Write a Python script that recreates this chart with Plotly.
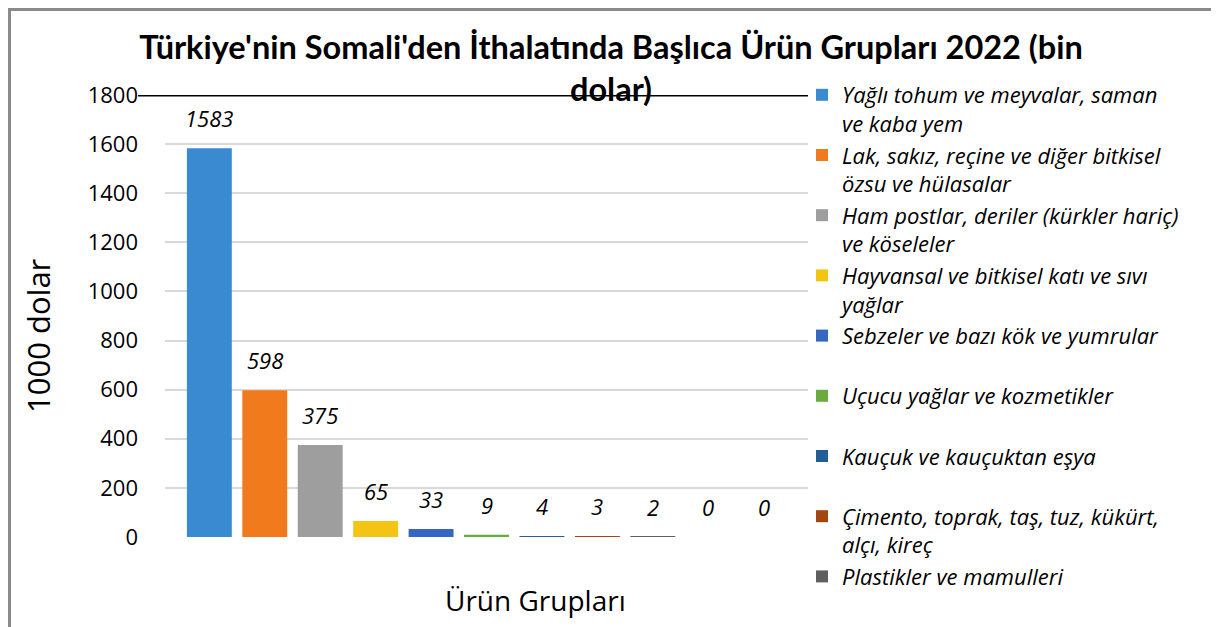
import plotly.graph_objects as go

# ---- data ----
categories = [
    "Yağlı tohum ve meyvalar, saman<br>ve kaba yem",
    "Lak, sakız, reçine ve diğer bitkisel<br>özsu ve hülasalar",
    "Ham postlar, deriler (kürkler hariç)<br>ve köseleler",
    "Hayvansal ve bitkisel katı ve sıvı<br>yağlar",
    "Sebzeler ve bazı kök ve yumrular<br> ",
    "Uçucu yağlar ve kozmetikler<br> ",
    "Kauçuk ve kauçuktan eşya<br> ",
    "Çimento, toprak, taş, tuz, kükürt,<br>alçı, kireç",
    "Plastikler ve mamulleri<br> ",
    "Diğer (10)",
    "Diğer (11)",
]
values = [1583, 598, 375, 65, 33, 9, 4, 3, 2, 0, 0]
in_legend = [True] * 9 + [False, False]
colors = ["#3a8ad2", "#f07a1c", "#9e9e9e", "#f4c414", "#3566c2",
          "#6aab3e", "#255d97", "#a2470f", "#5f5f5f", "#9b7a00", "#26457a"]
y_ticks = [0, 200, 400, 600, 800, 1000, 1200, 1400, 1600, 1800]

title_text = "Türkiye'nin Somali'den İthalatında Başlıca Ürün Grupları 2022 (bin<br>dolar)"
y_title = "1000 dolar"
x_title = "Ürün Grupları"

FONT = "Open Sans"
TFONT = "Lato"

# page offset of the plot div (browser body margin)
OFF = 8
W, H = 1219 - OFF, 627 - OFF
# plot area in page pixels: x 165..808, y 95..537
L, T = 165 - OFF, 95 - OFF
R, B = W - (808 - OFF), H - (537 - OFF)
pw, ph = W - L - R, H - T - B


def px_x(p):
    return (p - OFF - L) / pw


def px_y(p):
    return (H - B - (p - OFF)) / ph


fig = go.Figure()
for i, (name, v, c, show) in enumerate(zip(categories, values, colors, in_legend)):
    fig.add_trace(go.Bar(
        x=[i], y=[v], name=name, showlegend=show,
        marker=dict(color=c, line=dict(width=0)),
        width=0.81,
    ))
    fig.add_annotation(
        x=i, y=v, xref="x", yref="y", text=str(v), showarrow=False,
        yanchor="middle", yshift=30,
        font=dict(family=FONT, size=22, color="#000000", style="italic"),
    )

# black line at top value level
fig.add_shape(type="line", xref="paper", yref="y",
              x0=px_x(138), x1=1.0, y0=y_ticks[-1], y1=y_ticks[-1],
              line=dict(color="#000000", width=3), layer="above")
# outer frame
fig.add_shape(type="rect", xref="paper", yref="paper",
              x0=px_x(OFF + 1.5), x1=px_x(1215), y0=px_y(660), y1=px_y(OFF + 1.5),
              line=dict(color="#8a8a8a", width=3), fillcolor="rgba(0,0,0,0)")

fig.add_annotation(text=x_title, xref="paper", yref="paper",
                   x=px_x(535), y=px_y(600), showarrow=False,
                   xanchor="center", yanchor="middle",
                   font=dict(family=FONT, size=28, color="#000000"))
fig.add_annotation(text=y_title, xref="paper", yref="paper",
                   x=px_x(38), y=px_y(336), showarrow=False, textangle=-90,
                   xanchor="center", yanchor="middle",
                   font=dict(family=FONT, size=31, color="#000000"))

fig.update_layout(
    width=W, height=H,
    margin=dict(l=L, r=R, t=T, b=B, autoexpand=False),
    paper_bgcolor="white", plot_bgcolor="white",
    barmode="overlay",
    title=dict(text=title_text, x=px_x(611), xref="paper", xanchor="center",
               y=1 - 51 / H, yref="container", yanchor="top",
               font=dict(family=TFONT, size=32.5, color="#000000", weight="bold")),
    xaxis=dict(range=[-0.8, 10.8], showticklabels=False, showgrid=False,
               zeroline=False, showline=False, ticks=""),
    yaxis=dict(range=[0, 1800], tickvals=y_ticks, showgrid=True,
               gridcolor="#d9d9d9", gridwidth=1.5, zeroline=False,
               showline=False, ticks="", ticklabelstandoff=26,
               tickfont=dict(family=FONT, size=22, color="#000000")),
    legend=dict(x=px_x(802), y=px_y(74), xref="paper", yref="paper",
                xanchor="left", yanchor="top", valign="top",
                font=dict(family=FONT, size=22, color="#000000", style="italic"),
                traceorder="normal", maxheight=600,
                bgcolor="rgba(0,0,0,0)"),
    font=dict(family=FONT),
)

fig.write_html("out.html")
